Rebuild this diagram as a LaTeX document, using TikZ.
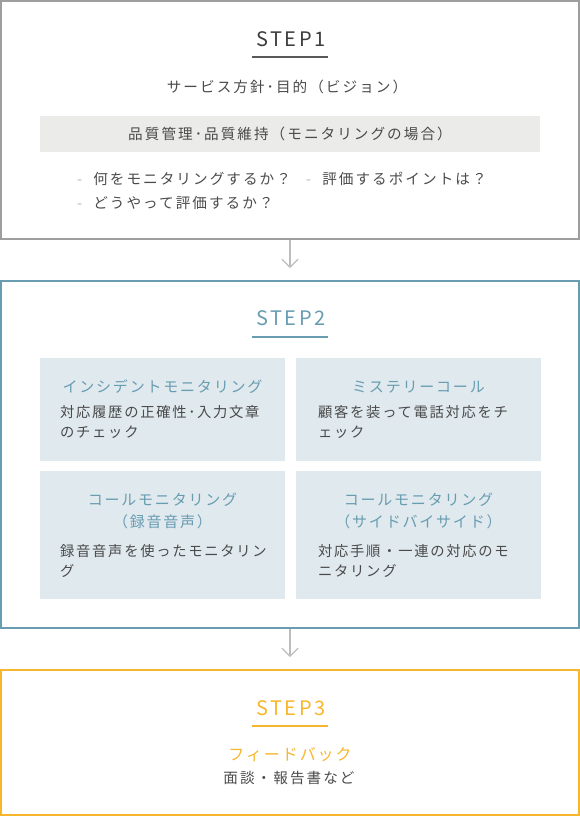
\documentclass[tikz,border=0pt]{standalone}
\usepackage{fontspec}
\setmainfont{Noto Sans CJK JP}[LetterSpace=12]
\usetikzlibrary{arrows.meta}

\definecolor{frameGray}{HTML}{9E9E9E}
\definecolor{titleGray}{HTML}{3C3C3C}
\definecolor{textGray}{HTML}{4A4A4A}
\definecolor{dashGray}{HTML}{B5B5B5}
\definecolor{bandFill}{HTML}{EBEBEA}
\definecolor{stepTeal}{HTML}{689CB1}
\definecolor{panelFill}{HTML}{DFE9EE}
\definecolor{stepOrange}{HTML}{F8B62D}
\definecolor{arrowGray}{HTML}{BDBDBD}

\begin{document}
\begin{tikzpicture}[x=1pt, y=-1pt, >={Straight Barb[length=8pt, width=16pt]},
    stepbox/.style={draw, line width=2pt, minimum width=578pt, inner sep=0pt},
    steptitle/.style={font=\fontsize{20}{24}\selectfont},
    stepline/.style={line width=2pt},
    plain/.style={font=\fontsize{14.6}{20}\selectfont\addfontfeatures{LetterSpace=14}, text=textGray},
    panel/.style={fill=panelFill, minimum width=245pt, inner sep=0pt},
    paneltitle/.style={font=\fontsize{15}{22}\selectfont, text=stepTeal, align=center},
    paneltext/.style={font=\fontsize{14.3}{20}\selectfont, text=textGray, align=left, anchor=west, inner sep=0pt},
    flow/.style={->, draw=arrowGray, line width=1.2pt, shorten >=12pt}]

    \useasboundingbox (0,0) rectangle (580,817);

    % 1. Step one
    \node[stepbox, draw=frameGray, minimum height=238pt] (step1) at (290,120) {};
    \node[steptitle, text=titleGray] (step1title) at (291,39) {STEP1};
    \draw[stepline, draw=titleGray!85] (252,57) -- (328,57);
    \node[plain] (vision) at (287,87) {サービス方針･目的（ビジョン）};
    \node[plain, fill=bandFill, minimum width=500pt, minimum height=36pt] (quality) at (290,134)
        {品質管理･品質維持（モニタリングの場合）};
    \node[paneltext, plain] (what) at (77,179) {\textcolor{dashGray}{-}\hspace{11pt}何をモニタリングするか？};
    \node[paneltext, plain] (point) at (306,179) {\textcolor{dashGray}{-}\hspace{11pt}評価するポイントは？};
    \node[paneltext, plain] (how) at (77,203) {\textcolor{dashGray}{-}\hspace{11pt}どうやって評価するか？};

    % 2. Step two
    \node[stepbox, draw=stepTeal, minimum height=347pt] (step2) at (290,454.5) {};
    \node[steptitle, text=stepTeal] (step2title) at (291,318) {STEP2};
    \draw[stepline, draw=stepTeal] (252,337) -- (328,337);

    \node[panel, minimum height=103pt] (incident) at (162.5,409.5) {};
    \node[panel, minimum height=103pt] (mystery) at (418.5,409.5) {};
    \node[panel, minimum height=128pt] (recording) at (162.5,535) {};
    \node[panel, minimum height=128pt] (sidebyside) at (418.5,535) {};

    \node[paneltitle] (incidenttitle) at (incident.center |- 0,387) {インシデントモニタリング};
    \node[paneltext] (incidenttext) at (60,422) {対応履歴の正確性･入力文章\\のチェック};
    \node[paneltitle] (mysterytitle) at (mystery.center |- 0,387) {ミステリーコール};
    \node[paneltext] (mysterytext) at (318,422) {顧客を装って電話対応をチ\\ェック};
    \node[paneltitle] (recordingtitle) at (recording.center |- 0,511) {コールモニタリング\\（録音音声）};
    \node[paneltext] (recordingtext) at (60,560.5) {録音音声を使ったモニタリン\\グ};
    \node[paneltitle] (sidebysidetitle) at (sidebyside.center |- 0,511) {コールモニタリング\\（サイドバイサイド）};
    \node[paneltext] (sidebysidetext) at (318,560.5) {対応手順・一連の対応のモ\\ニタリング};

    % 3. Step three
    \node[stepbox, draw=stepOrange, minimum height=145pt] (step3) at (290,742.5) {};
    \node[steptitle, text=stepOrange] (step3title) at (291,708) {STEP3};
    \draw[stepline, draw=stepOrange] (252,726) -- (328,726);
    \node[font=\fontsize{16}{20}\selectfont, text=stepOrange] (feedback) at (290,755) {フィードバック};
    \node[plain] (report) at (289,778) {面談・報告書など};

    % Flow between the steps
    \draw[flow] (step1.south) -- (step2.north);
    \draw[flow] (step2.south) -- (step3.north);
\end{tikzpicture}
\end{document}
